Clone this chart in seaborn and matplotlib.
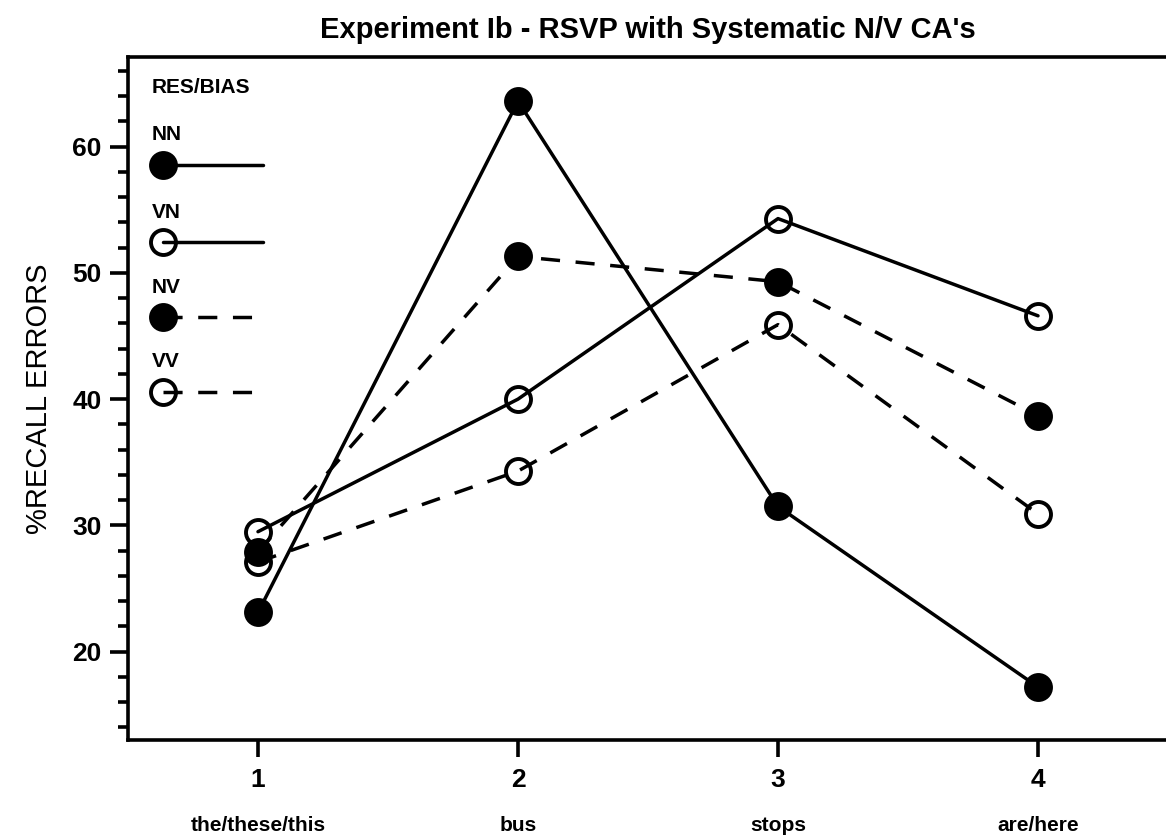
import numpy as np
import pandas as pd
import matplotlib
matplotlib.use('Agg')
import matplotlib.pyplot as plt
from matplotlib.ticker import MultipleLocator
import seaborn as sns

# values
positions = [1, 2, 3, 4]
words = ['the/these/this', 'bus', 'stops', 'are/here']
nn = [23.1, 63.6, 31.5, 17.2]
vn = [29.5, 40.0, 54.3, 46.6]
nv = [27.9, 51.3, 49.3, 38.7]
vv = [27.1, 34.3, 45.9, 30.9]

series = ['NN', 'VN', 'NV', 'VV']
filled = {'NN': True, 'VN': False, 'NV': True, 'VV': False}
dashed = {'NN': False, 'VN': False, 'NV': True, 'VV': True}

df = pd.DataFrame({
    'pos': positions * 4,
    'err': nn + vn + nv + vv,
    'cond': np.repeat(series, 4),
})

sns.set_theme(style='ticks')
plt.rcParams['font.family'] = ['Liberation Sans', 'DejaVu Sans']
plt.rcParams['text.color'] = 'black'
plt.rcParams['axes.labelcolor'] = 'black'
plt.rcParams['font.weight'] = 'bold'

fig = plt.figure(figsize=(11.66, 8.4), dpi=100)
ax = fig.add_axes([128/1166, 100/840, 1040/1166, 683/840])

lw = 2.5
for c in series:
    sub = df[df.cond == c]
    ls = (0, (5.5, 4.5)) if dashed[c] else '-'
    sns.lineplot(data=sub, x='pos', y='err', ax=ax, color='black', lw=lw,
                 linestyle=ls, marker='o', markersize=18,
                 markerfacecolor='black' if filled[c] else 'none',
                 markeredgecolor='black', markeredgewidth=2.8,
                 errorbar=None)

ax.set_xlim(0.5, 4.5)
ax.set_ylim(13.0, 67.1)
ax.set_xticks(positions)
ax.set_xticklabels([str(p) for p in positions])
ax.yaxis.set_major_locator(MultipleLocator(10))
ax.yaxis.set_minor_locator(MultipleLocator(2))
ax.set_xlabel('')
ax.set_ylabel('%RECALL ERRORS', fontsize=21, labelpad=14, fontweight='normal')
ax.set_title("Experiment Ib - RSVP with Systematic N/V CA's", fontsize=21, pad=14,
             fontweight='bold')

for s in ['left', 'bottom', 'top', 'right']:
    ax.spines[s].set_linewidth(2.6)
    ax.spines[s].set_color('black')

ax.tick_params(axis='y', which='major', length=13, width=2.6, labelsize=19, pad=6, colors='black')
ax.tick_params(axis='y', which='minor', length=7, width=2.6, colors='black')
ax.tick_params(axis='x', which='major', length=12, width=2.6, labelsize=19, pad=8, colors='black')
ax.tick_params(axis='x', which='minor', length=0)

# word labels under the tick numbers
for p, w in zip(positions, words):
    ax.text(p, -0.125, w, transform=ax.get_xaxis_transform(), ha='center', va='center',
            fontsize=15, fontweight='bold')

# hand-made legend, label above each handle
ax.text(0.023, 0.956, 'RES/BIAS', transform=ax.transAxes, ha='left', va='center', fontsize=15)
leg_y = [0.842, 0.729, 0.619, 0.5095]
for c, y in zip(series, leg_y):
    ax.text(0.023, y + 0.044, c, transform=ax.transAxes, ha='left', va='center', fontsize=15)
    ls = (0, (5.5, 4.5)) if dashed[c] else '-'
    ax.plot([0.0337, 0.13], [y, y], transform=ax.transAxes, color='black', lw=lw, linestyle=ls)
    ax.plot([0.0337], [y], transform=ax.transAxes, marker='o', markersize=18,
            markerfacecolor='black' if filled[c] else 'none', markeredgecolor='black',
            markeredgewidth=2.8, linestyle='none')

fig.savefig('out.png', dpi=100, facecolor='white')
